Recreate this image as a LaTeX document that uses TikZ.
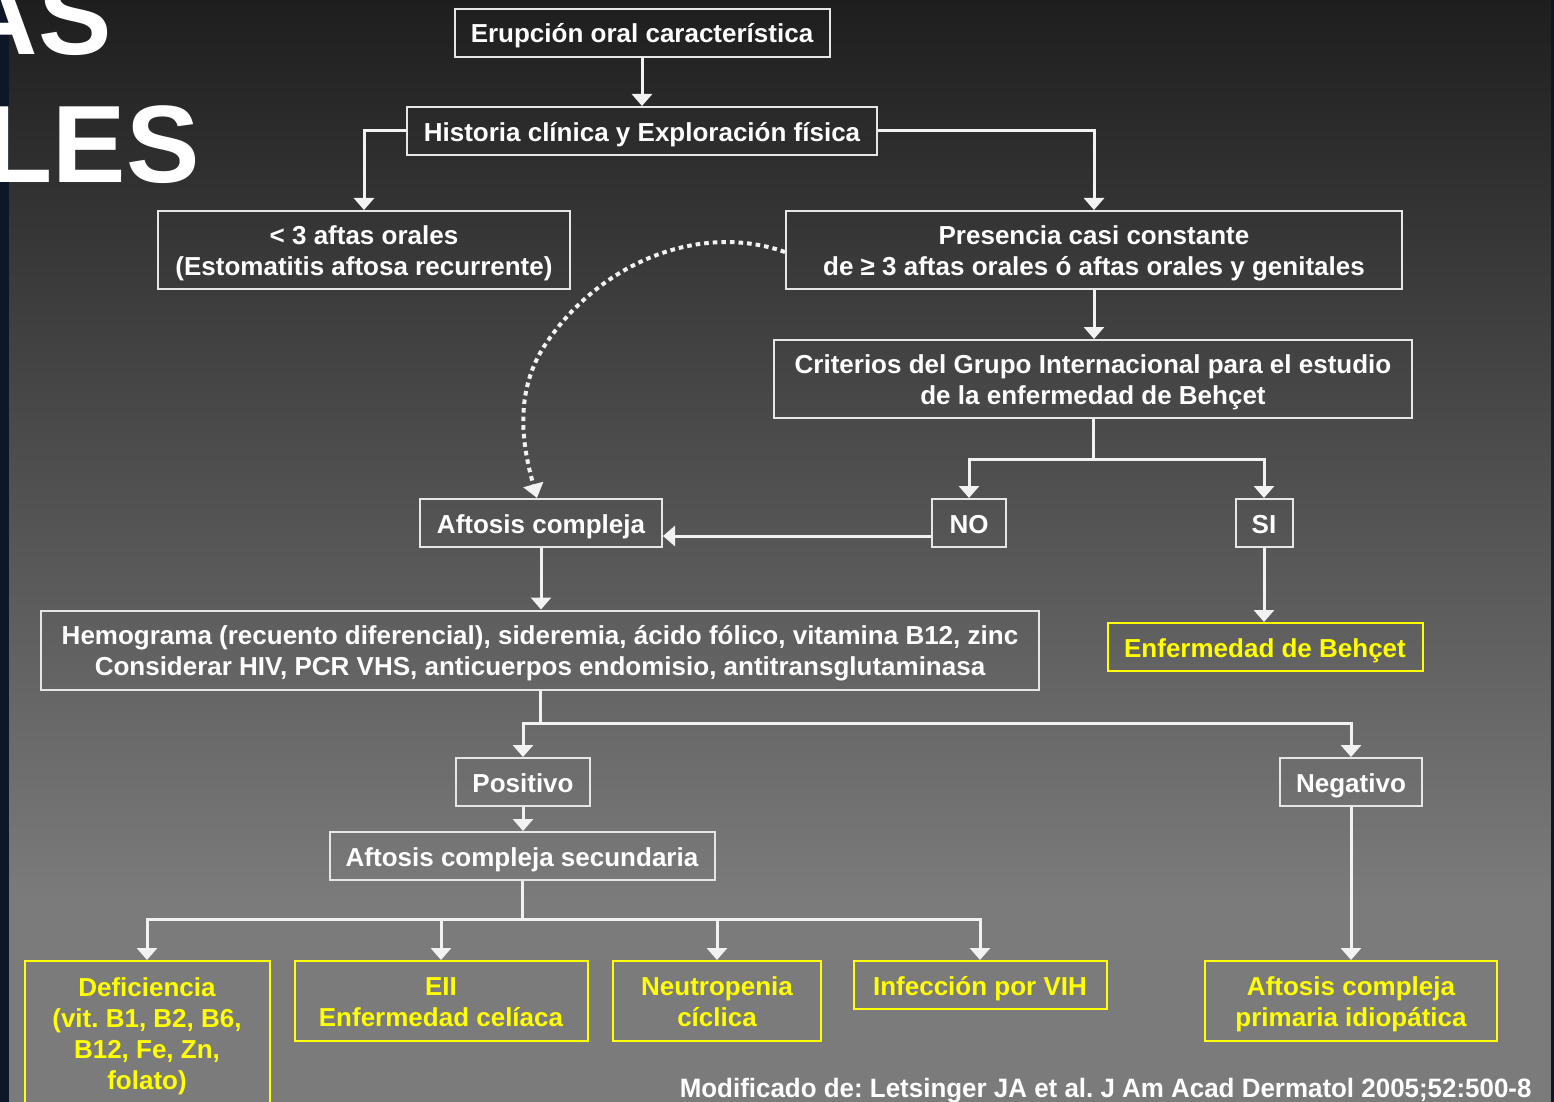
\documentclass[tikz,border=0pt]{standalone}
\usepackage{fontspec}
\setmainfont{Liberation Sans}
\usetikzlibrary{arrows.meta,calc}
\definecolor{bgtop}{HTML}{1E1E1E}
\definecolor{bgbot}{HTML}{7B7B7B}
\definecolor{navy}{HTML}{0E1729}
\definecolor{boxline}{HTML}{E6E6E6}
\definecolor{ylw}{HTML}{FFFF00}
\definecolor{lnc}{HTML}{F2F2F2}
\newcommand\strutT{\rule{0pt}{13pt}}
\newcommand\strutB{\rule[-3pt]{0pt}{3pt}}
\frenchspacing
\begin{document}
\begin{tikzpicture}[x=0.5pt,y=-0.5pt,
  box/.style={draw=boxline, line width=1pt, text=white,
    font=\bfseries\fontsize{13}{15.5}\selectfont, align=center,
    inner sep=0pt, minimum height=24pt},
  ybox/.style={box, draw=ylw, text=ylw},
  ln/.style={draw=lnc, line width=1.5pt},
  arr/.style={ln, -{Triangle[width=10pt,length=6pt]}},
  dotarr/.style={draw=lnc, line width=2pt, dash pattern=on 2.3pt off 2pt,
    -{Triangle[width=10pt,length=7pt]}}]
\useasboundingbox (0,0) rectangle (1554,1102);
\shade[top color=bgtop, bottom color=bgbot] (0,0) rectangle (1554,900);
\fill[bgbot] (0,899) rectangle (1554,1102);
\fill[navy] (0,0) rectangle (9,1102);
\fill[navy] (1551,0) rectangle (1554,1102);

% title fragments
\node[anchor=base east, text=white, font=\bfseries\fontsize{55}{60}\selectfont, inner sep=0pt] (t1) at (112,55) {AS};
\node[anchor=base east, text=white, font=\bfseries\fontsize{55}{60}\selectfont, inner sep=0pt] (t2) at (200,183) {LES};

% nodes
\node[box, minimum width=187.5pt] (n1) at (642,33) {\strutT Erupción oral característica\strutB};
\node[box, minimum width=235pt] (n2) at (642,131) {\strutT Historia clínica y Exploración física\strutB};
\node[box, minimum width=206pt, minimum height=39pt] (n3) at (364,250) {\strutT< 3 aftas orales\\(Estomatitis aftosa recurrente)\strutB};
\node[box, minimum width=308pt, minimum height=39pt] (n4) at (1094,250) {\strutT Presencia casi constante\\de ≥ 3 aftas orales ó aftas orales y genitales\strutB};
\node[box, minimum width=319pt, minimum height=39pt] (n5) at (1093,379) {\strutT Criterios del Grupo Internacional para el estudio\\de la enfermedad de Behçet\strutB};
\node[box, minimum width=121pt] (ac) at (541,523) {\strutT Aftosis compleja\strutB};
\node[box, minimum width=37pt] (no) at (969,523) {\strutT NO\strutB};
\node[box, minimum width=28.5pt] (si) at (1264,523) {\strutT SI\strutB};
\node[ybox, minimum width=157.5pt] (beh) at (1265,647) {\strutT Enfermedad de Behçet\strutB};
\node[box, minimum width=499pt, minimum height=39.5pt] (hem) at (540,650) {\strutT Hemograma (recuento diferencial), sideremia, ácido fólico, vitamina B12, zinc\\Considerar HIV, PCR VHS, anticuerpos endomisio, antitransglutaminasa\strutB};
\node[box, minimum width=67pt] (pos) at (523,782) {\strutT Positivo\strutB};
\node[box, minimum width=71pt] (neg) at (1351,782) {\strutT Negativo\strutB};
\node[box, minimum width=192.5pt] (sec) at (522,856) {\strutT Aftosis compleja secundaria\strutB};
\node[ybox, minimum width=122.5pt, minimum height=72pt] (def) at (147,1033) {\strutT Deficiencia\\(vit. B1, B2, B6,\\B12, Fe, Zn,\\folato)\strutB};
\node[ybox, minimum width=146.5pt, minimum height=40pt] (eii) at (441,1001) {\strutT EII\\Enfermedad celíaca\strutB};
\node[ybox, minimum width=104pt, minimum height=40pt] (neu) at (717,1001) {\strutT Neutropenia\\cíclica\strutB};
\node[ybox, minimum width=126.5pt] (vih) at (980,985) {\strutT Infección por VIH\strutB};
\node[ybox, minimum width=146pt, minimum height=40pt] (pri) at (1351,1001) {\strutT Aftosis compleja\\primaria idiopática\strutB};

\node[anchor=base east, text=white, font=\bfseries\fontsize{13.3}{15}\selectfont, inner sep=0pt] (cit) at (1532,1097) {\scalebox{0.975}[1]{Modificado de: Letsinger JA et al. J Am Acad Dermatol 2005;52:500-8}};

% junctions
\coordinate (j1) at (1093,459);
\coordinate (j2) at (540,723);
\coordinate (j3) at (522,919);

% connectors
\draw[arr] (n1) -- (n2);
\draw[arr] (n2.west) -| (n3.north);
\draw[arr] (n2.east) -| (n4.north);
\draw[arr] (n4.south) -- (n4.south |- n5.north);
\draw[ln] (n5.south) -- (j1);
\draw[arr] (j1) -| (no.north);
\draw[arr] (j1) -| (si.north);
\draw[arr] ($(no.west)+(0,13)$) -- ($(ac.east)+(0,13)$);
\draw[arr] (si.south) -- (si.south |- beh.north);
\draw[dotarr] ($(n4.west)+(0,2)$) .. controls (700,222) and (600,262) .. (545,345) .. controls (510,398) and (526,458) .. ($(ac.north)+(-4,0)$);
\draw[arr] (ac.south) -- (ac.south |- hem.north);
\draw[ln] (hem.south) -- (j2);
\draw[arr] (j2) -| (pos.north);
\draw[arr] (j2) -| (neg.north);
\draw[arr] (pos.south) -- (pos.south |- sec.north);
\draw[ln] (sec.south) -- (j3);
\draw[arr] (j3) -| (def.north);
\draw[arr] (j3) -| (eii.north);
\draw[arr] (j3) -| (neu.north);
\draw[arr] (j3) -| (vih.north);
\draw[arr] (neg.south) -- (pri.north);
\end{tikzpicture}
\end{document}
